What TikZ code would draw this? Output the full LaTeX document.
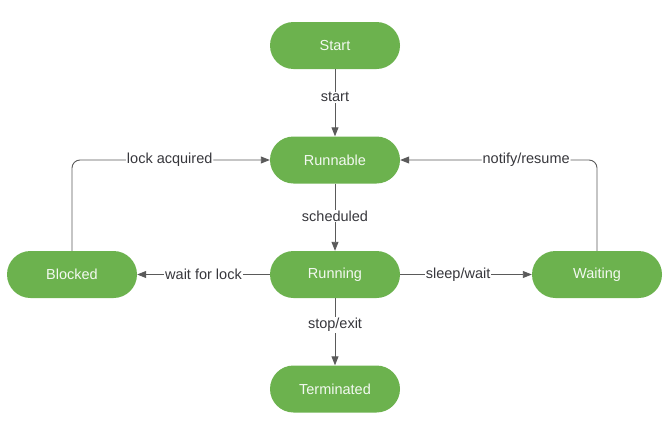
\documentclass[tikz,border=0pt]{standalone}
\usepackage{fontspec}
\setmainfont{Liberation Sans}
\usetikzlibrary{arrows.meta}
\definecolor{stategreen}{RGB}{108,178,78}
\definecolor{edgegray}{RGB}{90,90,90}
\definecolor{labelgray}{RGB}{55,55,60}
\tikzset{
  state/.style={draw=none, fill=stategreen, rounded corners=23.5pt, minimum width=130pt, minimum height=47pt, inner sep=0pt, text=white!92!stategreen, font=\fontsize{14.5}{16}\selectfont},
  conn/.style={draw=edgegray, line width=0.9pt, -{Triangle[length=9pt,width=7pt]}},
  lab/.style={fill=white, text=labelgray, inner sep=1pt, font=\fontsize{14.5}{16}\selectfont}
}
\begin{document}
\begin{tikzpicture}[x=1pt,y=-1pt]
\useasboundingbox (0,0) rectangle (668,423);
\node[state] (start) at (335,45.5) {Start};
\node[state] (runnable) at (335,160) {Runnable};
\node[state] (running) at (335,274.5) {Running};
\node[state] (terminated) at (335,389) {Terminated};
\node[state] (blocked) at (72,274.5) {Blocked};
\node[state] (waiting) at (597,274.5) {Waiting};

\draw[conn] (start) -- node[lab, pos=0.42] {start} (runnable);
\draw[conn] (runnable) -- node[lab, pos=0.48] {scheduled} (running);
\draw[conn] (running) -- node[lab, pos=0.4] {stop/exit} (terminated);
\draw[conn] (running.west) -- node[lab, pos=0.5] {wait for lock} (blocked.east);
\draw[conn] (running.east) -- node[lab, pos=0.44] {sleep/wait} (waiting.west);
\draw[conn, rounded corners=8pt] (blocked.north) |- node[lab, pos=0.747] {lock acquired} (runnable.west);
\draw[conn, rounded corners=8pt] (waiting.north) |- node[lab, pos=0.68] {notify/resume} (runnable.east);
\end{tikzpicture}
\end{document}
